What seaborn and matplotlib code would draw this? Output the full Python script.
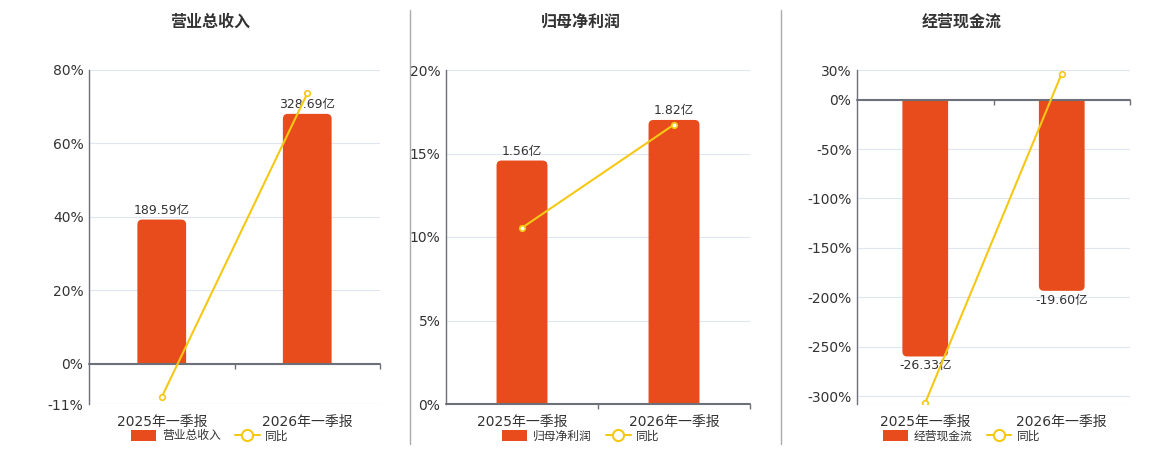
import matplotlib
matplotlib.use("Agg")
import matplotlib.pyplot as plt
import seaborn as sns
from matplotlib.patches import Patch, FancyBboxPatch, Rectangle
from matplotlib.lines import Line2D

# 数据
periods = ["2025年一季报", "2026年一季报"]

revenue = [189.59, 328.69]        # 亿
revenue_yoy = [-9.1, 73.6]        # %
profit = [1.56, 1.82]
profit_yoy = [10.55, 16.73]
cashflow = [-26.33, -19.60]
cashflow_yoy = [-306.7, 26.4]

bar_color = "#E84C1C"
line_color = "#F5C814"
grid_color = "#E0E6F1"
axis_color = "#6E7079"
text_color = "#333333"

sns.set_style("white")
plt.rcParams["font.family"] = ["DejaVu Sans", "Noto Sans CJK SC"]

W, H = 1160, 450
fig = plt.figure(figsize=(W / 100, H / 100), dpi=100)

panels = [
    dict(title="营业总收入", bars=revenue, yoy=revenue_yoy, name="营业总收入",
         ylim=(-11, 80), ticks=[-11, 0, 20, 40, 60, 80], scale=4.83,
         x0=89, x1=380, cx=210),
    dict(title="归母净利润", bars=profit, yoy=profit_yoy, name="归母净利润",
         ylim=(0, 20), ticks=[0, 5, 10, 15, 20], scale=0.107,
         x0=446, x1=750, cx=581),
    dict(title="经营现金流", bars=cashflow, yoy=cashflow_yoy, name="经营现金流",
         ylim=(-308, 30), ticks=[-300, -250, -200, -150, -100, -50, 0, 30], scale=0.1013,
         x0=857, x1=1130, cx=962),
]

top_px, bot_px = 70, 404
radius_px = 5


def round_bars(a, x_per_px, y_per_px):
    # 远端圆角: 圆角矩形向零轴另一侧多伸出一截, 再在零轴处裁掉
    r_y = radius_px * y_per_px
    for bar in list(a.patches):
        x, y = bar.get_x(), bar.get_y()
        w, h = bar.get_width(), bar.get_height()
        bar.set_visible(False)
        if h >= 0:
            y0, y1 = -r_y, h
            clip = Rectangle((x - w, 0), 3 * w, h * 2, transform=a.transData)
        else:
            y0, y1 = h, r_y
            clip = Rectangle((x - w, h * 2), 3 * w, -h * 2, transform=a.transData)
        fb = FancyBboxPatch((x, y0), w, y1 - y0,
                            boxstyle=f"round,pad=0,rounding_size={radius_px * x_per_px}",
                            mutation_aspect=y_per_px / x_per_px,
                            facecolor=bar_color, edgecolor="none", zorder=2)
        a.add_patch(fb)
        fb.set_clip_path(clip)


for p in panels:
    rect = [p["x0"] / W, 1 - bot_px / H, (p["x1"] - p["x0"]) / W, (bot_px - top_px) / H]
    ax = fig.add_axes(rect)
    ax_bar = ax.twinx()
    ax_line = ax.twinx()

    lo, hi = p["ylim"]
    ax.set_ylim(lo, hi)
    ax_bar.set_ylim(lo * p["scale"], hi * p["scale"])
    ax_line.set_ylim(lo, hi)

    # 柱
    sns.barplot(x=periods, y=p["bars"], ax=ax_bar, color=bar_color,
                saturation=1, width=0.335, linewidth=0, errorbar=None)
    ax_bar.bar_label(ax_bar.containers[0], labels=[f"{v:.2f}亿" for v in p["bars"]],
                     padding=2, fontsize=9, color=text_color)
    ax_bar.set_xlim(-0.5, 1.5)
    round_bars(ax_bar, 2 / (p["x1"] - p["x0"]),
               (hi - lo) * p["scale"] / (bot_px - top_px))

    # 同比线
    sns.pointplot(x=periods, y=p["yoy"], ax=ax_line, color=line_color,
                  markers="o", linewidth=1.5, markersize=4, markeredgewidth=1.2,
                  errorbar=None)
    for ln in ax_line.lines:
        ln.set_markerfacecolor("white")
        ln.set_markeredgecolor(line_color)

    for a in (ax_bar, ax_line):
        a.set_yticks([])
        for s in a.spines.values():
            s.set_visible(False)
        a.set_ylabel("")

    ax.set_xlim(-0.5, 1.5)
    ax.set_yticks(p["ticks"])
    ax.set_yticklabels([f"{t}%" for t in p["ticks"]])
    ax.tick_params(axis="y", length=0, labelsize=10, labelcolor=text_color, pad=4)
    ax.set_xticks([0, 1])
    ax.set_xticklabels(periods)
    ax.tick_params(axis="x", length=0, labelsize=10, labelcolor=text_color, pad=8)
    for t in p["ticks"]:
        ax.axhline(t, color=grid_color, lw=0.8, zorder=0)
    ax.axhline(lo, color=grid_color, lw=0.8, zorder=0)

    for s in ("top", "right", "bottom"):
        ax.spines[s].set_visible(False)
    ax.spines["left"].set_color(axis_color)
    ax.spines["left"].set_linewidth(1)

    # 零轴与刻度
    ax_line.axhline(0, color=axis_color, lw=1.5, zorder=1, clip_on=False)
    tick_len = (hi - lo) * 5 / (bot_px - top_px)
    ax_line.vlines([0.5, 1.5], 0 - tick_len, 0, color=axis_color, lw=1, clip_on=False)

    fig.text(p["cx"] / W, 1 - 22 / H, p["title"], ha="center", va="center",
             fontsize=11.5, fontweight="bold", color=text_color,
             family=["Noto Sans CJK SC", "DejaVu Sans"])

    handles = [Patch(facecolor=bar_color, edgecolor="none"),
               Line2D([], [], color=line_color, lw=1.5, marker="o", markersize=8,
                      markerfacecolor="white", markeredgewidth=1.5)]
    fig.legend(handles, [p["name"], "同比"], loc="center",
               bbox_to_anchor=(p["cx"] / W, 1 - 436 / H), ncol=2, frameon=False,
               handlelength=2.1, handleheight=1.1, columnspacing=1.2,
               handletextpad=0.5, labelcolor=text_color,
               prop={"family": ["Noto Sans CJK SC", "DejaVu Sans"], "size": 8.5})

# 分隔线
for x in (410, 781):
    fig.add_artist(Line2D([x / W, x / W], [1 - 10 / H, 1 - 444 / H],
                          transform=fig.transFigure, color="#AAAAAA", lw=1))

fig.savefig("out.png", dpi=100)
